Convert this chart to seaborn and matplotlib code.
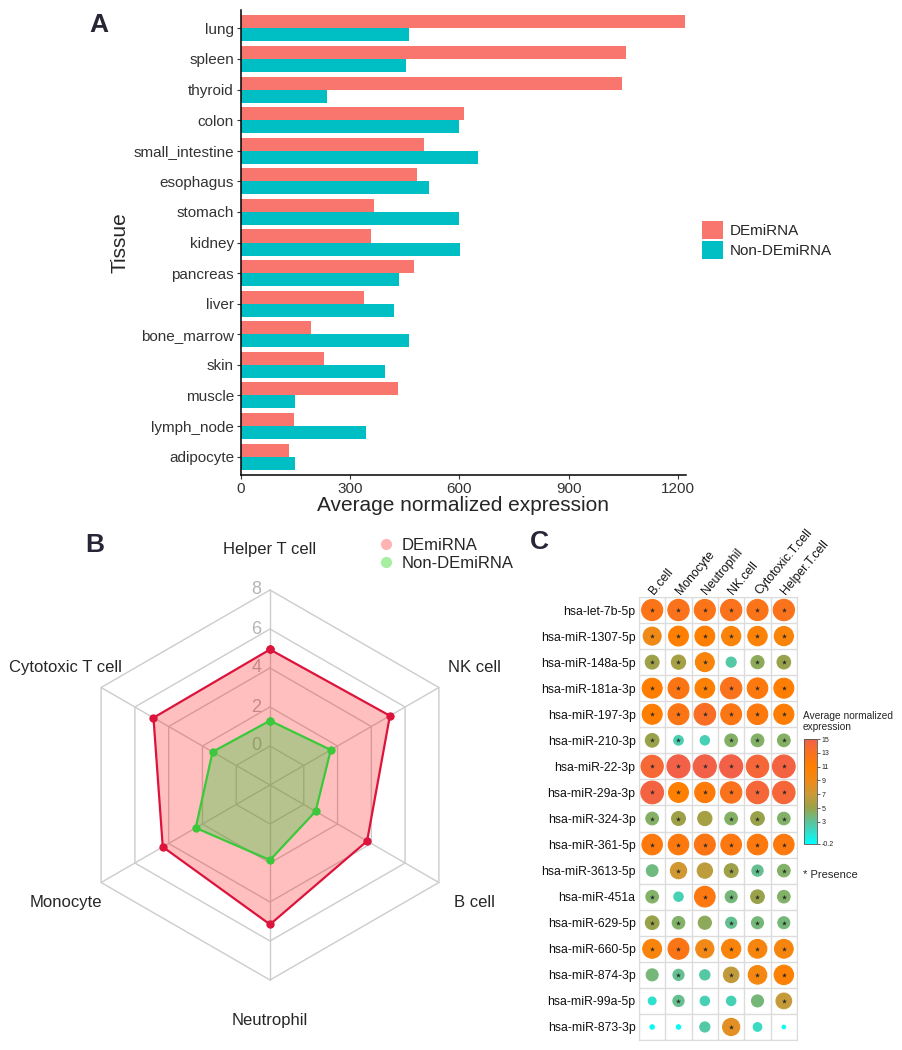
import numpy as np
import pandas as pd
import matplotlib
matplotlib.use("Agg")
import matplotlib.pyplot as plt
from matplotlib.colors import LinearSegmentedColormap, Normalize
from matplotlib.cm import ScalarMappable
from matplotlib.lines import Line2D
import seaborn as sns

# ---------------- Panel A: tissue bars ----------------
tissues = ["lung", "spleen", "thyroid", "colon", "small_intestine", "esophagus",
           "stomach", "kidney", "pancreas", "liver", "bone_marrow", "skin",
           "muscle", "lymph_node", "adipocyte"]
de_expr = [1219, 1058, 1045, 612, 503, 484, 364, 357, 474, 338, 193, 228, 430, 145, 133]
non_de_expr = [462, 454, 236, 598, 650, 515, 598, 602, 435, 421, 460, 395, 147, 343, 147]
groups = ["DEmiRNA", "Non-DEmiRNA"]
bar_colors = ["#F8766D", "#00BFC4"]

# ---------------- Panel B: radar ----------------
radar_cells = ["Helper T cell", "NK cell", "B cell", "Neutrophil", "Monocyte", "Cytotoxic T cell"]
radar_de = [4.95, 5.1, 3.75, 5.15, 4.35, 4.9]
radar_non_de = [1.3, 1.6, 0.7, 1.85, 2.4, 1.4]
radar_levels = [0, 2, 4, 6, 8]
radar_min = -2

# ---------------- Panel C: dot matrix ----------------
dot_cells = ["B.cell", "Monocyte", "Neutrophil", "NK.cell", "Cytotoxic.T.cell", "Helper.T.cell"]
dot_mirnas = ["hsa-let-7b-5p", "hsa-miR-1307-5p", "hsa-miR-148a-5p", "hsa-miR-181a-3p",
              "hsa-miR-197-3p", "hsa-miR-210-3p", "hsa-miR-22-3p", "hsa-miR-29a-3p",
              "hsa-miR-324-3p", "hsa-miR-361-5p", "hsa-miR-3613-5p", "hsa-miR-451a",
              "hsa-miR-629-5p", "hsa-miR-660-5p", "hsa-miR-874-3p", "hsa-miR-99a-5p",
              "hsa-miR-873-3p"]
dot_expr = [
    [12.5, 12.8, 12.5, 12.8, 12.5, 12.8],
    [9.0, 11.0, 11.0, 10.3, 10.5, 10.3],
    [5.2, 5.5, 10.0, 2.6, 4.6, 5.0],
    [11.2, 12.3, 10.8, 12.8, 11.8, 11.2],
    [11.2, 12.3, 13.2, 12.2, 11.8, 11.3],
    [5.0, 2.3, 2.2, 4.3, 4.3, 4.3],
    [14.0, 15.0, 15.0, 15.0, 14.2, 14.6],
    [14.6, 11.0, 11.6, 12.8, 14.2, 14.2],
    [4.3, 5.2, 5.5, 4.3, 5.0, 4.2],
    [11.8, 11.8, 12.3, 12.0, 11.8, 11.8],
    [3.6, 7.3, 6.4, 5.2, 3.3, 4.2],
    [4.2, 2.2, 12.0, 3.8, 5.0, 4.2],
    [5.0, 4.2, 4.6, 3.2, 3.8, 3.8],
    [10.0, 12.3, 9.2, 10.3, 9.8, 9.8],
    [3.8, 3.2, 2.7, 6.6, 9.6, 10.6],
    [1.4, 3.3, 2.2, 2.2, 3.8, 6.8],
    [0.2, 0.2, 2.6, 8.2, 1.8, 0.0],
]
dot_presence = [
    [1, 1, 1, 1, 1, 1],
    [1, 1, 1, 1, 1, 1],
    [1, 1, 1, 0, 1, 1],
    [1, 1, 1, 1, 1, 1],
    [1, 1, 1, 1, 1, 1],
    [1, 1, 0, 1, 1, 1],
    [1, 1, 1, 1, 1, 1],
    [1, 1, 1, 1, 1, 1],
    [1, 1, 0, 1, 1, 1],
    [1, 1, 1, 1, 1, 1],
    [0, 1, 0, 1, 1, 1],
    [1, 0, 1, 1, 1, 1],
    [1, 1, 0, 1, 1, 1],
    [1, 1, 1, 1, 1, 1],
    [0, 1, 0, 1, 1, 1],
    [0, 1, 0, 0, 0, 1],
    [0, 0, 0, 1, 0, 0],
]
cbar_ticks = [-0.2, 3, 5, 7, 9, 11, 13, 15]

sns.set_style("white")
plt.rcParams["font.family"] = ["Liberation Sans", "DejaVu Sans"]

W, H = 903, 1050
fig = plt.figure(figsize=(W / 100, H / 100), dpi=100)


def px_axes(left, top, right, bottom):
    return fig.add_axes([left / W, 1 - bottom / H, (right - left) / W, (bottom - top) / H])


# ---------- A ----------
axA = px_axes(241, 10, 686, 475)
df_a = pd.DataFrame({
    "Tissue": tissues * 2,
    "expr": de_expr + non_de_expr,
    "group": [groups[0]] * len(tissues) + [groups[1]] * len(tissues),
})
sns.barplot(data=df_a, y="Tissue", x="expr", hue="group", palette=bar_colors,
            orient="h", width=0.85, saturation=1, linewidth=0, ax=axA)
axA.set_xlim(0, 1222)
axA.set_ylim(14.6, -0.6)
axA.set_xticks([0, 300, 600, 900, 1200])
for s in ["top", "right"]:
    axA.spines[s].set_visible(False)
for s in ["left", "bottom"]:
    axA.spines[s].set_color("black")
    axA.spines[s].set_linewidth(1.1)
axA.tick_params(axis="both", labelsize=11, labelcolor="#333333", length=3,
                width=0.8, color="#333333", left=True, bottom=True, pad=2)
axA.set_xlabel("Average normalized expression", fontsize=15)
axA.set_ylabel("Tissue", fontsize=15)
axA.xaxis.set_label_coords(0.5, -0.045)
axA.yaxis.set_label_coords(-0.25, 0.5)
axA.legend(title=None, frameon=False, fontsize=11, loc="upper left",
           bbox_to_anchor=(702 / W, 1 - 221 / H), bbox_transform=fig.transFigure,
           borderpad=0, handlelength=1.37, handleheight=1.44, handletextpad=0.45,
           labelspacing=0.13, borderaxespad=0)

fig.text(99 / W, 1 - 25 / H, "A", fontsize=19, fontweight="bold", color="#262636",
         ha="center", va="center")

# ---------- B ----------
axB = px_axes(10, 525, 530, 1045)
span = 260 / 19.5
axB.set_xlim(-span, span)
axB.set_ylim(-span, span)
axB.set_aspect("equal")
axB.axis("off")

ang = np.deg2rad(90 - 60 * np.arange(len(radar_cells)))
ang_closed = np.append(ang, ang[0])
for lv in radar_levels:
    r = lv - radar_min
    axB.plot(r * np.cos(ang_closed), r * np.sin(ang_closed), color="#cccccc", lw=1, zorder=1)
rmax = radar_levels[-1] - radar_min
for a in ang:
    axB.plot([0, rmax * np.cos(a)], [0, rmax * np.sin(a)], color="#cccccc", lw=1, zorder=1)
for lv in radar_levels:
    axB.text(-0.45, lv - radar_min, str(lv), ha="right", va="center", fontsize=13,
             color="#b5b5b5", zorder=2)
for a, name in zip(ang, radar_cells):
    rl = 12.1
    axB.text(rl * np.cos(a), rl * np.sin(a), name, ha="center", va="center", fontsize=12)

series = [(radar_de, (1, 0, 0), 0.25, "#DC143C"), (radar_non_de, (0.2, 0.8, 0.2), 0.35, "#3CC83C")]
for vals, fillc, alpha, linec in series:
    r = np.array(vals) - radar_min
    r_closed = np.append(r, r[0])
    axB.fill(r_closed * np.cos(ang_closed), r_closed * np.sin(ang_closed),
             color=fillc, alpha=alpha, lw=0, zorder=3)
    axB.plot(r_closed * np.cos(ang_closed), r_closed * np.sin(ang_closed),
             color=linec, lw=1.6, marker="o", ms=5, zorder=4)

handles = [Line2D([], [], ls="", marker="o", ms=7, color="#FFB3B3"),
           Line2D([], [], ls="", marker="o", ms=7, color="#A6EFA0")]
fig.legend(handles, groups, loc="upper left", bbox_to_anchor=(378 / W, 1 - 538 / H),
           frameon=False, fontsize=12, borderpad=0, handlelength=1, handletextpad=0.4,
           labelspacing=0.2, borderaxespad=0)

fig.text(95 / W, 1 - 545 / H, "B", fontsize=19, fontweight="bold", color="#262636",
         ha="center", va="center")

# ---------- C ----------
colors_c = [(0.0, "#00FFFF"), (0.21, "#5EC29A"), (0.28, "#7DB46E"), (0.34, "#99A24A"),
            (0.47, "#C99A38"), (0.6, "#F08A18"), (0.74, "#FF7F00"), (0.87, "#FA7020"),
            (1.0, "#F26048")]
cmap = LinearSegmentedColormap.from_list("expr", colors_c)
norm = Normalize(vmin=-0.2, vmax=15)

rows = []
for i, m in enumerate(dot_mirnas):
    for j, c in enumerate(dot_cells):
        rows.append({"cell": c, "mirna": m, "value": dot_expr[i][j], "presence": dot_presence[i][j]})
df_c = pd.DataFrame(rows)

axC = px_axes(639, 597, 797, 1040)
sns.scatterplot(data=df_c, x="cell", y="mirna", hue="value", size="value",
                palette=cmap, hue_norm=norm, sizes=(3, 274), size_norm=norm,
                edgecolor="face", linewidth=0.8, legend=False, ax=axC, zorder=3)
sns.scatterplot(data=df_c[df_c["presence"] == 1], x="cell", y="mirna", marker="*",
                color="#2a2a2a", s=14, linewidth=0, legend=False, ax=axC, zorder=4)
axC.set_xlim(-0.5, len(dot_cells) - 0.5)
axC.set_ylim(len(dot_mirnas) - 0.5, -0.5)
axC.set_xticks(np.arange(-0.5, len(dot_cells), 1), minor=True)
axC.set_yticks(np.arange(-0.5, len(dot_mirnas), 1), minor=True)
axC.grid(which="minor", color="#dcdcdc", lw=1)
axC.grid(which="major", visible=False)
for s in axC.spines.values():
    s.set_color("#dcdcdc")
axC.set_xlabel("")
axC.set_ylabel("")
axC.xaxis.tick_top()
axC.tick_params(which="both", length=0)
axC.tick_params(axis="y", labelsize=8.8, pad=2.5, labelcolor="#111111")
axC.tick_params(axis="x", labelsize=8.8, pad=3, labelcolor="#111111")
for lab in axC.get_xticklabels():
    lab.set_rotation(50)
    lab.set_ha("left")
    lab.set_va("center")
    lab.set_rotation_mode("anchor")

cax = px_axes(804, 739, 817, 844)
cb = fig.colorbar(ScalarMappable(norm=norm, cmap=cmap), cax=cax, ticks=cbar_ticks)
cb.ax.set_yticklabels([str(t) for t in cbar_ticks])
cb.ax.tick_params(labelsize=5, length=2, width=0.5, pad=1.5)
cb.outline.set_edgecolor("#555555")
cb.outline.set_linewidth(0.6)
fig.text(803 / W, 1 - 711 / H, "Average normalized\nexpression", fontsize=7.3,
         ha="left", va="top", linespacing=1.15)
fig.text(803 / W, 1 - 875 / H, "* Presence", fontsize=8, ha="left", va="center")

fig.text(539 / W, 1 - 542 / H, "C", fontsize=19, fontweight="bold", color="#262636",
         ha="center", va="center")

fig.savefig("out.png", dpi=100)
